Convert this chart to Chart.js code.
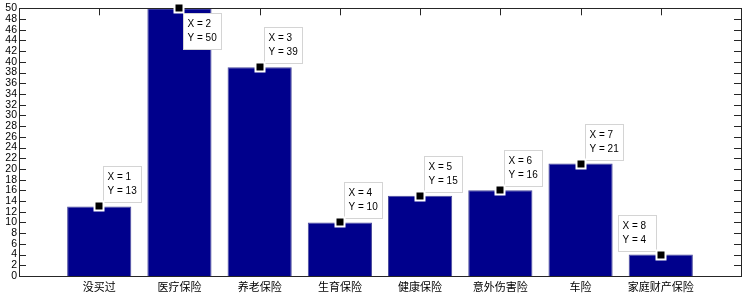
<!DOCTYPE html>
<html>
<head>
<meta charset="utf-8">
<script src="https://cdn.jsdelivr.net/npm/chart.js@4"></script>
<style>
  html, body { margin: 0; padding: 0; background: #fff; }
  #wrap { width: 745px; height: 296px; }
</style>
</head>
<body>
<div id="wrap"><canvas id="bar-chart"></canvas></div>
<script>
const categories = ["没买过", "医疗保险", "养老保险", "生育保险", "健康保险", "意外伤害险", "车险", "家庭财产保险"];
const counts = [13, 50, 39, 10, 15, 16, 21, 4];
const yTicks = [0, 2, 4, 6, 8, 10, 12, 14, 16, 18, 20, 22, 24, 26, 28, 30, 32, 34, 36, 38, 40, 42, 44, 46, 48, 50];

const points = counts.map((v, i) => ({ x: i + 1, y: v }));

// frame, inward ticks and data tips, like a matlab figure
const axesDecor = {
  id: "axesDecor",
  beforeDatasetsDraw(chart) {
    const { ctx, chartArea: a, scales } = chart;
    ctx.save();
    ctx.strokeStyle = "#262626";
    ctx.lineWidth = 1;
    ctx.beginPath();
    yTicks.forEach((t) => {
      const y = Math.round(scales.y.getPixelForValue(t)) + 0.5;
      ctx.moveTo(a.left, y); ctx.lineTo(a.left + 7, y);
      ctx.moveTo(a.right, y); ctx.lineTo(a.right - 7, y);
    });
    categories.forEach((c, i) => {
      const x = Math.round(scales.x.getPixelForValue(i + 1)) + 0.5;
      ctx.moveTo(x, a.top); ctx.lineTo(x, a.top + 7);
      ctx.moveTo(x, a.bottom); ctx.lineTo(x, a.bottom - 7);
    });
    ctx.stroke();
    ctx.restore();
  },
  afterDatasetsDraw(chart) {
    const { ctx, chartArea: a } = chart;
    ctx.save();
    ctx.strokeStyle = "#262626";
    ctx.lineWidth = 1;
    ctx.strokeRect(Math.round(a.left) + 0.5, Math.round(a.top) + 0.5,
      Math.round(a.right - a.left), Math.round(a.bottom - a.top));
    ctx.restore();
  },
  afterDraw(chart) {
    const { ctx, chartArea: a, scales } = chart;
    ctx.save();
    ctx.font = "10px 'Liberation Sans', Arial, sans-serif";
    ctx.textBaseline = "middle";
    points.forEach((p) => {
      const px = scales.x.getPixelForValue(p.x);
      const py = scales.y.getPixelForValue(p.y);
      const w = 38, h = 36;
      let bx = px + 4, by = py - 4 - h;
      if (by < a.top) by = py + 5;
      if (bx + w > a.right - 60) bx = px - 4.5 - w;
      bx = Math.round(bx) + 0.5; by = Math.round(by) + 0.5;
      ctx.fillStyle = "#fff";
      ctx.strokeStyle = "#d4d4d4";
      ctx.fillRect(bx, by, w, h);
      ctx.strokeRect(bx, by, w, h);
      ctx.fillStyle = "#000";
      ctx.fillText("X = " + p.x, bx + 4, by + 11);
      ctx.fillText("Y = " + p.y, bx + 4, by + 25);
    });
    // markers on top of tips
    points.forEach((p) => {
      const px = Math.round(scales.x.getPixelForValue(p.x));
      const py = Math.round(scales.y.getPixelForValue(p.y));
      ctx.fillStyle = "#fff";
      ctx.fillRect(px - 5.5, py - 5.5, 11, 11);
      ctx.fillStyle = "#000";
      ctx.fillRect(px - 3.5, py - 3.5, 7, 7);
    });
    ctx.restore();
  },
};

new Chart(document.getElementById("bar-chart"), {
  type: "bar",
  data: {
    datasets: [
      {
        label: "count",
        data: points,
        backgroundColor: "#00008c",
        borderColor: "#4a4a9c",
        borderWidth: 1,
        barPercentage: 0.8,
        categoryPercentage: 1,
      },
    ],
  },
  options: {
    responsive: true,
    maintainAspectRatio: false,
    animation: false,
    layout: { padding: { top: 8, right: 4, left: 0, bottom: 0 } },
    plugins: { legend: { display: false }, tooltip: { enabled: false } },
    scales: {
      x: {
        type: "linear",
        min: 0,
        max: 9,
        offset: false,
        grid: { display: false, drawTicks: false, offset: false },
        border: { display: false },
        ticks: {
          stepSize: 1,
          autoSkip: false,
          maxRotation: 0,
          padding: 4,
          color: "#000",
          font: { family: "'Noto Sans CJK SC'", size: 11 },
          callback: (v) => categories[v - 1] || "",
        },
        afterFit: (s) => { s.height = 20; },
      },
      y: {
        min: 0,
        max: 50,
        grid: { display: false, drawTicks: false },
        border: { display: false },
        afterBuildTicks: (s) => { s.ticks = yTicks.map((v) => ({ value: v })); },
        ticks: {
          autoSkip: false,
          padding: 2,
          color: "#000",
          font: { family: "'Liberation Sans', Arial, sans-serif", size: 10.5 },
        },
        afterFit: (s) => { s.width = 19; },
      },
    },
  },
  plugins: [axesDecor],
});
</script>
</body>
</html>
